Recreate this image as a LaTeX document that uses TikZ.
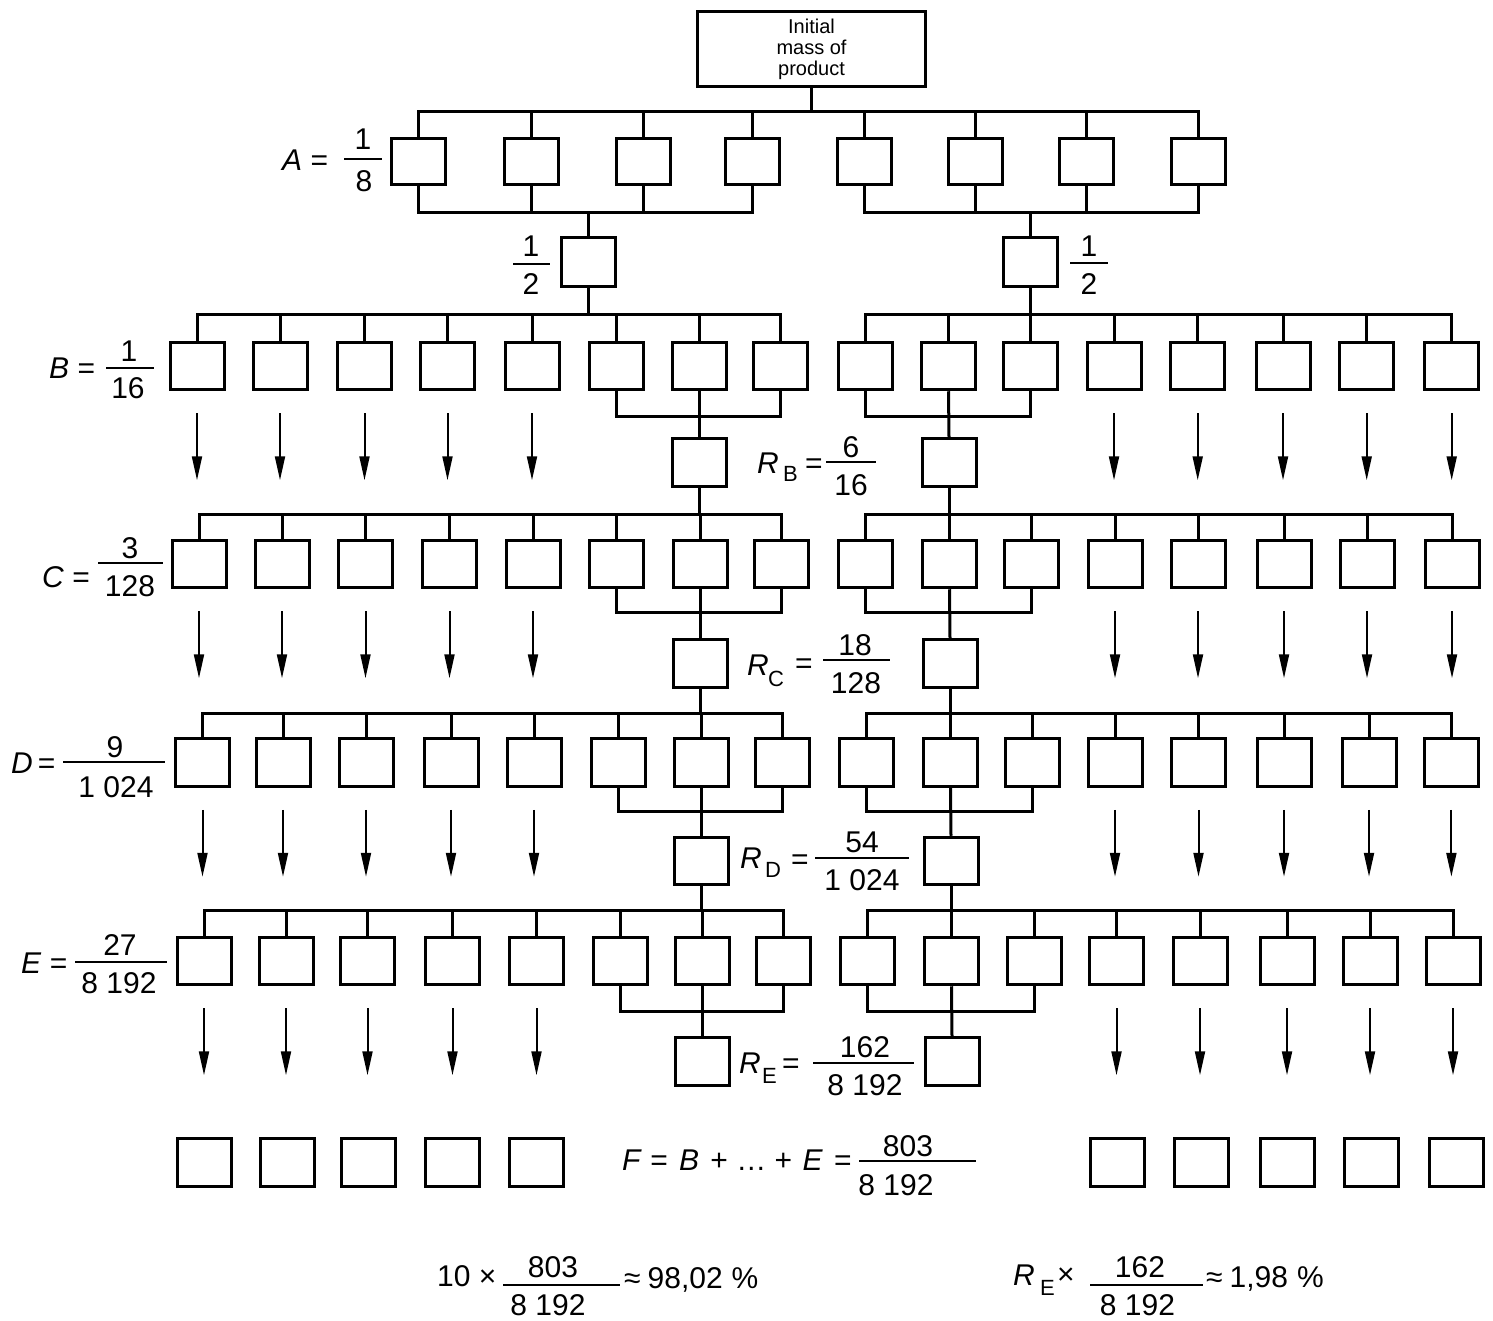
\documentclass[tikz,border=0pt]{standalone}
\usepackage{fontspec}
\setmainfont{Liberation Sans}
\usetikzlibrary{arrows.meta}
\tikzset{
  box/.style={draw, line width=3pt, minimum width=54pt, minimum height=47.5pt, inner sep=0pt},
  abox/.style={box, minimum height=46pt},
  bus/.style={line width=3pt},
  arr/.style={line width=2pt, -{Triangle[length=24pt,width=10pt]}},
  frule/.style={line width=2pt},
  lab/.style={inner sep=0pt, font=\fontsize{30}{36}\selectfont},
  subl/.style={inner sep=0pt, font=\fontsize{22}{22}\selectfont},
}
\begin{document}
\begin{tikzpicture}[x=1pt,y=-1pt]
\useasboundingbox (0,0) rectangle (1493,1321);

% ---------- top box
\node[draw, line width=3pt, minimum width=228pt, minimum height=75pt, inner sep=0pt,
      align=center, font=\fontsize{20}{21}\selectfont] (top) at (811.5,49.5) {Initial\\mass of\\product};

% ---------- row A
\foreach \x [count=\i] in {418.7,531,643.4,752.5,864.5,975.5,1086,1198}
  \node[abox] (A\i) at (\x,161.5) {};
\node[box, minimum height=49pt] (hL) at (588,262.5) {};
\node[box, minimum height=49pt] (hR) at (1030,262.5) {};

% ---------- rows B..E
\foreach \x [count=\i] in {197,280,364.5,447.5,532,616,699,780.5}
  \node[box] (Lb\i) at (\x,366) {};
\foreach \x [count=\i] in {865,948.5,1030,1114,1197.7,1283,1366.7,1451.7}
  \node[box] (Rb\i) at (\x,366) {};
\foreach \x [count=\i] in {199,282,365.5,449.5,533,616,700,781.5}
  \node[box] (Lc\i) at (\x,564) {};
\foreach \x [count=\i] in {865.5,949.5,1031,1115,1198,1284,1367,1452}
  \node[box] (Rc\i) at (\x,564) {};
\foreach \x [count=\i] in {202.5,283,366,451,534,618,701,782}
  \node[box] (Ld\i) at (\x,762.5) {};
\foreach \x [count=\i] in {866,950.5,1032.6,1115,1198.5,1284,1369,1451.4}
  \node[box] (Rd\i) at (\x,762.5) {};
\foreach \x [count=\i] in {204,286,367.5,452.5,536.5,620.5,702,783.5}
  \node[box] (Le\i) at (\x,961) {};
\foreach \x [count=\i] in {867.5,951.5,1034,1116.5,1200,1287,1370,1453}
  \node[box] (Re\i) at (\x,961) {};

% residue boxes
\node[box] (Mb) at (699,462.5) {};
\node[box] (Mc) at (700,663.5) {};
\node[box] (Md) at (701,861) {};
\node[box] (Me) at (702,1061.5) {};
\node[box] (Nb) at (949,462.5) {};
\node[box] (Nc) at (950,663.5) {};
\node[box] (Nd) at (951,861) {};
\node[box] (Ne) at (952,1061.5) {};

% row F
\foreach \x [count=\i] in {204.5,287,368.3,452.4,536.8}
  \node[box] (Lf\i) at (\x,1162.5) {};
\foreach \x [count=\i] in {1117.5,1201.5,1287,1371.5,1456}
  \node[box] (Rf\i) at (\x,1162.5) {};

% ---------- buses, row A
\coordinate (TA) at (0,112);
\coordinate (UA) at (0,213);
\draw[bus] (top.south) -- (top.south |- TA);
\draw[bus] (A1.north) -- (A1.north |- TA) -- (A8.north |- TA) -- (A8.north);
\foreach \i in {2,...,7} \draw[bus] (A\i.north) -- (A\i.north |- TA);
\draw[bus] (A1.south) -- (A1.south |- UA) -- (A4.south |- UA) -- (A4.south);
\draw[bus] (A2.south) -- (A2.south |- UA);
\draw[bus] (A3.south) -- (A3.south |- UA);
\draw[bus] (A5.south) -- (A5.south |- UA) -- (A8.south |- UA) -- (A8.south);
\draw[bus] (A6.south) -- (A6.south |- UA);
\draw[bus] (A7.south) -- (A7.south |- UA);
\draw[bus] (hL.north) -- (hL.north |- UA);
\draw[bus] (hR.north) -- (hR.north |- UA);

% ---------- buses, rows B..E
\foreach \r/\t/\u in {b/314.5/416,c/514/612.5,d/713/811.5,e/910/1011.5}{
  \coordinate (T\r) at (0,\t);
  \coordinate (U\r) at (0,\u);
  \draw[bus] (L\r1.north) -- (L\r1.north |- T\r) -- (L\r8.north |- T\r) -- (L\r8.north);
  \draw[bus] (R\r1.north) -- (R\r1.north |- T\r) -- (R\r8.north |- T\r) -- (R\r8.north);
  \foreach \i in {2,...,7}{
    \draw[bus] (L\r\i.north) -- (L\r\i.north |- T\r);
    \draw[bus] (R\r\i.north) -- (R\r\i.north |- T\r);
  }
  \draw[bus] (L\r6.south) -- (L\r6.south |- U\r) -- (L\r8.south |- U\r) -- (L\r8.south);
  \draw[bus] (L\r7.south) -- (M\r.north);
  \draw[bus] (R\r1.south) -- (R\r1.south |- U\r) -- (R\r3.south |- U\r) -- (R\r3.south);
  \draw[bus] (R\r2.south) -- (N\r.north);
  \foreach \i in {1,...,5}
    \draw[arr] ([yshift=-22pt]L\r\i.south) -- ++(0,67);
  \foreach \i in {4,...,8}
    \draw[arr] ([yshift=-22pt]R\r\i.south) -- ++(0,67);
}
\draw[bus] (hL.south) -- (hL.south |- Tb);
\draw[bus] (hR.south) -- (hR.south |- Tb);
\foreach \p/\r in {b/c,c/d,d/e}{
  \draw[bus] (M\p.south) -- (M\p.south |- T\r);
  \draw[bus] (N\p.south) -- (N\p.south |- T\r);
}

% ---------- labels
% A
\node[lab, anchor=base west] (labA) at (282,171) {\textit{A} =};
\node[lab, anchor=base] (nA) at (363,150) {1};
\node[lab, anchor=base] (dA) at (364,192) {8};
\draw[frule] (344,159) -- (382,159);
% halves
\node[lab, anchor=base] (nHL) at (531,257) {1};
\node[lab, anchor=base] (dHL) at (531,295) {2};
\draw[frule] (513,264) -- (550,264);
\node[lab, anchor=base] (nHR) at (1089,257) {1};
\node[lab, anchor=base] (dHR) at (1089,295) {2};
\draw[frule] (1070,263) -- (1108,263);
% B
\node[lab, anchor=base west] (labB) at (49,378) {\textit{B} =};
\node[lab, anchor=base] (nB) at (129,362) {1};
\node[lab, anchor=base] (dB) at (128,398) {16};
\draw[frule] (106,368) -- (154,368);
% C
\node[lab, anchor=base west] (labC) at (42,587) {\textit{C} =};
\node[lab, anchor=base] (nC) at (130,558) {3};
\node[lab, anchor=base] (dC) at (130,596) {128};
\draw[frule] (98,563) -- (163,563);
% D
\node[lab, anchor=base west] (labD) at (11,773) {\textit{D}\,=};
\node[lab, anchor=base] (nD) at (115,757) {9};
\node[lab, anchor=base] (dD) at (116,797) {1 024};
\draw[frule] (63,762) -- (165,762);
% E
\node[lab, anchor=base west] (labE) at (21,973) {\textit{E} =};
\node[lab, anchor=base] (nE) at (120,955) {27};
\node[lab, anchor=base] (dE) at (119,993) {8 192};
\draw[frule] (75,962) -- (167,962);
% R_B
\node[lab, anchor=base west] (rRB) at (757,473) {\textit{R}};
\node[subl, anchor=base west] (sRB) at (783,481) {B};
\node[lab, anchor=base west] (eRB) at (805,473) {=};
\draw[frule] (826,462) -- (876,462);
\node[lab, anchor=base] (nRB) at (851,457) {6};
\node[lab, anchor=base] (dRB) at (851,495) {16};
% R_C
\node[lab, anchor=base west] (rRC) at (747,675) {\textit{R}};
\node[subl, anchor=base west] (sRC) at (768,686) {C};
\node[lab, anchor=base west] (eRC) at (795,673) {=};
\draw[frule] (823,660) -- (890,660);
\node[lab, anchor=base] (nRC) at (855,655) {18};
\node[lab, anchor=base] (dRC) at (856,693) {128};
% R_D
\node[lab, anchor=base west] (rRD) at (740,868) {\textit{R}};
\node[subl, anchor=base west] (sRD) at (765,877) {D};
\node[lab, anchor=base west] (eRD) at (791,869) {=};
\draw[frule] (815,858) -- (909,858);
\node[lab, anchor=base] (nRD) at (862,852) {54};
\node[lab, anchor=base] (dRD) at (862,890) {1 024};
% R_E
\node[lab, anchor=base west] (rRE) at (739,1073) {\textit{R}};
\node[subl, anchor=base west] (sRE) at (762,1083) {E};
\node[lab, anchor=base west] (eRE) at (782,1073) {=};
\draw[frule] (813,1063) -- (914,1063);
\node[lab, anchor=base] (nRE) at (865,1057) {162};
\node[lab, anchor=base] (dRE) at (865,1095) {8 192};
% F
\node[lab, anchor=base west] (labF) at (622,1170)
  {\textit{F} = \hspace{3pt}\textit{B} \hspace{3pt}+ … +\hspace{2pt} \textit{E} \hspace{3pt}=};
\draw[frule] (859,1161) -- (976,1161);
\node[lab, anchor=base] (nF) at (908,1156) {803};
\node[lab, anchor=base] (dF) at (896,1195) {8 192};
% bottom left
\node[lab, anchor=base west] (t10) at (437,1286) {10 ×};
\draw[frule] (503,1285) -- (620,1285);
\node[lab, anchor=base] (nP) at (553,1277) {803};
\node[lab, anchor=base] (dP) at (548,1315) {8 192};
\node[lab, anchor=base west] (pctP) at (624,1288) {≈\hspace{7pt}98,02\hspace{9pt}\%};
% bottom right
\node[lab, anchor=base west] (rBR) at (1013,1285) {\textit{R}};
\node[subl, anchor=base west] (sBR) at (1040,1295) {E};
\node[lab, anchor=base west] (xBR) at (1057,1284) {×};
\draw[frule] (1090,1285) -- (1203,1285);
\node[lab, anchor=base] (nQ) at (1140,1277) {162};
\node[lab, anchor=base] (dQ) at (1137.5,1315) {8 192};
\node[lab, anchor=base west] (pctQ) at (1206,1287) {≈\hspace{7pt}1,98\hspace{9pt}\%};
\end{tikzpicture}
\end{document}
